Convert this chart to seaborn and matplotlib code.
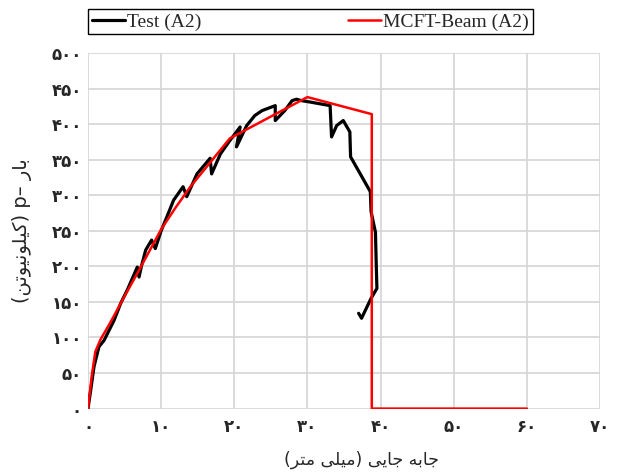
import matplotlib
matplotlib.use("Agg")
import matplotlib.pyplot as plt
import seaborn as sns
import pandas as pd

# ---- data ----
test_x = [0, 0.37, 0.82, 1.5, 2.2, 3.56, 4.47, 5.38, 6.74, 6.98, 7.3, 7.89, 8.7, 9.2,
          10.0, 10.8, 11.7, 13.0, 13.5, 14.9, 16.7, 16.9, 18.1, 19.4, 20.8, 20.3, 21.7,
          22.8, 23.8, 25.6, 25.6, 26.9, 27.9, 28.5, 29.2, 30.4, 33.1, 33.3, 34.0, 34.9,
          35.8, 35.9, 38.6, 38.7, 39.3, 39.4, 39.5, 38.7, 37.4, 37.0]
test_y = [0, 26, 59, 87, 96, 124, 148, 167, 199, 185, 200, 223, 237, 225,
          250, 270, 293, 312, 298, 330, 352, 330, 358, 377, 396, 368, 398,
          412, 419, 426, 405, 419, 433, 435, 433, 431, 426, 382, 398, 405,
          389, 354, 305, 277, 248, 206, 169, 155, 127, 134]

mcft_x = [0, 0.5, 1.0, 1.7, 3, 5, 7, 10, 12, 14, 16.7, 19.4, 30.0, 38.8, 38.8, 60]
mcft_y = [0, 45, 80, 97, 120, 158, 195, 252, 283, 312, 346, 380, 438, 414, 0, 0]

x_ticks = [0, 10, 20, 30, 40, 50, 60, 70]
y_ticks = [0, 50, 100, 150, 200, 250, 300, 350, 400, 450, 500]

series_names = ["Test (A2)", "MCFT-Beam (A2)"]

# Persian labels in visual (left-to-right) order using presentation forms
# x label: "جابه‌جایی (میلی‌متر)"
w_mili = "\uFEAE\uFE98\uFEE3 \uFEF0\uFEE0\uFEF4\uFEE3"
w_jabe = "\uFEF0\uFEF3\uFE8E\uFE9F \uFEEA\uFE91\uFE8E\uFE9F"
x_label = "(" + w_mili + ") " + w_jabe
# y label: "بار p– (کیلونیوتن)"
w_kilo = "\uFEE6\uFE97\uFEEE\uFEF4\uFEE7\uFEEE\uFEE0\uFEF4\uFB90"
w_bar = "\uFEAD\uFE8E\uFE91"
y_label = "(" + w_kilo + ") p\u2013 " + w_bar

def fa_digits(v):
    return "".join(chr(0x06F0 + int(c)) for c in str(v))

# ---- plot ----
sns.set_style("white")
plt.rcParams["font.family"] = ["DejaVu Sans"]

fig = plt.figure(figsize=(6.18, 4.75), dpi=100)
ax = fig.add_axes([88 / 618, 1 - 408.6 / 475, 512 / 618, 355.6 / 475])

df_test = pd.DataFrame({"x": test_x, "y": test_y})
df_mcft = pd.DataFrame({"x": mcft_x, "y": mcft_y})
sns.lineplot(data=df_test, x="x", y="y", sort=False, estimator=None, color="black",
             linewidth=2.3, ax=ax, label=series_names[0], zorder=3)
sns.lineplot(data=df_mcft, x="x", y="y", sort=False, estimator=None, color="#ff0000",
             linewidth=1.8, ax=ax, label=series_names[1], zorder=4)

ax.set_xlim(0, 70)
ax.set_ylim(0, 500)
ax.set_xticks(x_ticks)
ax.set_yticks(y_ticks)
ax.set_xticklabels([fa_digits(v) for v in x_ticks], fontsize=12, fontweight="bold")
ax.set_yticklabels([fa_digits(v) for v in y_ticks], fontsize=12, fontweight="bold")
ax.tick_params(axis="y", length=0, pad=4.5)
ax.tick_params(axis="x", length=0, pad=7)
ax.grid(True, color="#d4d4d4", linewidth=1.2, zorder=0)
ax.set_axisbelow(True)
for s in ax.spines.values():
    s.set_visible(False)

ax.set_xlabel(x_label, fontsize=12.5)
ax.xaxis.set_label_coords(0.535, -0.145)
ax.xaxis.label.set_va("center")
ax.set_ylabel(y_label, fontsize=14)
ax.yaxis.set_label_coords(-0.129, 0.5)
ax.yaxis.label.set_va("center")

leg = ax.legend(loc="center", bbox_to_anchor=(0, 1.05, 0.869, 0.076), mode="expand",
                ncol=2, frameon=True, fancybox=False, edgecolor="black", framealpha=1,
                prop={"family": "Liberation Serif", "size": 14}, handlelength=1.7,
                handletextpad=0.1, borderpad=0.2, borderaxespad=0)
leg.get_frame().set_linewidth(1.0)

fig.savefig("out.png", dpi=100)
